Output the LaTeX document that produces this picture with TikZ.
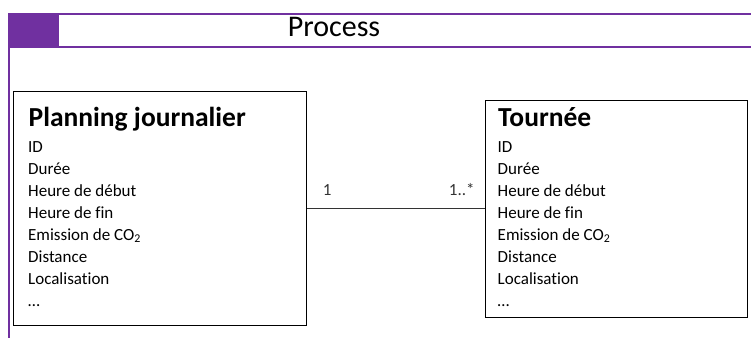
\documentclass[tikz,border=0pt]{standalone}
\usepackage{fontspec}
\setmainfont{Carlito}[Ligatures=NoCommon]
\usetikzlibrary{positioning}

\definecolor{procpurple}{RGB}{112,48,160}

\begin{document}
\begin{tikzpicture}[x=1pt, y=-1pt,
    classbox/.style={draw, line width=1.3pt, inner sep=0pt, anchor=north west},
    classtitle/.style={font=\fontsize{27.5}{28}\selectfont\bfseries, anchor=base west, inner sep=0pt},
    attr/.style={font=\fontsize{17}{22}\selectfont, anchor=base west, inner sep=0pt},
    mult/.style={font=\fontsize{17}{22}\selectfont, inner sep=0pt}]
    \useasboundingbox (0,0) rectangle (751,338);

    % header band
    \fill[procpurple] (8,13.3) rectangle (58.7,47.7);
    \draw[procpurple, line width=2pt] (8,14) -- (751,14);
    \draw[procpurple, line width=2.5pt] (8,47) -- (751,47);
    \draw[procpurple, line width=1.5pt] (9,47) -- (9,338);
    \node[font=\fontsize{30}{30}\selectfont, anchor=base, inner sep=0pt] (proc) at (334,36.5) {Process};

    % classes
    \node[classbox, minimum width=293pt, minimum height=234pt] (plan) at (13,91) {};
    \node[classbox, minimum width=262pt, minimum height=217pt] (tour) at (485,100) {};

    \node[classtitle] (plantitle) at (28.5,126.7) {Planning journalier};
    \node[classtitle] (tourtitle) at (498,126.7) {Tournée};

    \foreach \a [count=\i from 0] in {ID, Durée, Heure de début, Heure de fin,
        Emission de CO\textsubscript{2}, Distance, Localisation, \ldots} {
        \node[attr] (planattr\i) at (28,152+22.1*\i) {\a};
        \node[attr] (tourattr\i) at (497.5,152+22.1*\i) {\a};
    }

    % association
    \draw[line width=0.9pt, black!80] (plan.east) -- (plan.east -| tour.west)
        node[mult, pos=0, anchor=base west, xshift=15pt, yshift=13pt] (mleft) {1}
        node[mult, pos=1, anchor=base east, xshift=-10pt, yshift=13pt] (mright) {1..*};
\end{tikzpicture}
\end{document}
